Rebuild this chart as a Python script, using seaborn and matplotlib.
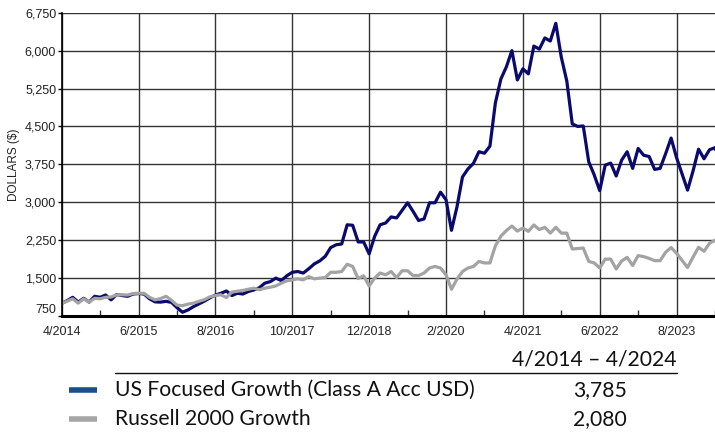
import numpy as np
import pandas as pd
import seaborn as sns
import matplotlib.pyplot as plt
from matplotlib.lines import Line2D
from matplotlib.ticker import FuncFormatter, MultipleLocator

# monthly growth of $1,000, 4/2014 .. 4/2024 (month 0 .. 120)
fund_values = [
    1000, 1055, 1120, 1025, 1100, 1025, 1140, 1120, 1165, 1070,
    1175, 1155, 1140, 1185, 1195, 1185, 1090, 1030, 1025, 1040,
    1020, 915, 825, 870, 935, 990, 1045, 1110, 1165, 1200,
    1245, 1155, 1200, 1185, 1235, 1265, 1310, 1400, 1430, 1500,
    1450, 1545, 1615, 1630, 1600, 1685, 1780, 1840, 1930, 2105,
    2160, 2175, 2555, 2545, 2215, 2215, 1980, 2325, 2555, 2590,
    2710, 2690, 2840, 2990, 2820, 2640, 2670, 2990, 2990, 3200,
    3050, 2445, 2910, 3500, 3660, 3770, 4000, 3970, 4110, 4970,
    5440, 5680, 6000, 5420, 5640, 5540, 6090, 6030, 6250, 6190,
    6540, 5870, 5400, 4550, 4500, 4510, 3800, 3540, 3230, 3735,
    3775, 3520, 3835, 4000, 3670, 4065, 3930, 3905, 3650, 3670,
    3960, 4270, 3880, 3560, 3240, 3620, 4050, 3860, 4040, 4080,
    3785,
]
index_values = [
    1000, 1045, 1090, 1005, 1090, 1025, 1100, 1090, 1120, 1125,
    1170, 1170, 1165, 1195, 1200, 1200, 1120, 1070, 1095, 1140,
    1060, 965, 955, 985, 1005, 1040, 1075, 1130, 1155, 1170,
    1115, 1225, 1240, 1255, 1280, 1300, 1270, 1300, 1320, 1345,
    1400, 1445, 1465, 1485, 1465, 1530, 1485, 1500, 1510, 1615,
    1615, 1630, 1775, 1730, 1490, 1545, 1345, 1500, 1600, 1565,
    1630, 1510, 1645, 1645, 1550, 1550, 1600, 1700, 1730, 1700,
    1565, 1280, 1480, 1630, 1700, 1730, 1830, 1800, 1800, 2140,
    2330, 2440, 2530, 2430, 2490, 2425, 2550, 2460, 2505, 2390,
    2505, 2390, 2390, 2075, 2085, 2095, 1830, 1800, 1700, 1875,
    1875, 1680, 1840, 1910, 1750, 1945, 1925, 1890, 1845, 1845,
    2010, 2105, 1990, 1850, 1710, 1915, 2110, 2030, 2190, 2250,
    2080,
]
months = list(range(len(fund_values)))

series_names = ['US Focused Growth (Class A Acc USD)', 'Russell 2000 Growth']
final_values = ['3,785', '2,080']
period_label = '4/2014 \u2013 4/2024'
x_tick_months = [0, 14, 28, 42, 56, 70, 84, 98, 112]
x_tick_labels = ['4/2014', '6/2015', '8/2016', '10/2017', '12/2018',
                 '2/2020', '4/2021', '6/2022', '8/2023']
y_ticks = list(range(750, 6751, 750))

line_colors = ['#0a0a6e', '#a3a3a3']
legend_colors = ['#1a4f8b', '#a6a6a6']

df = pd.concat([
    pd.DataFrame({'month': months, 'value': fund_values, 'series': series_names[0]}),
    pd.DataFrame({'month': months, 'value': index_values, 'series': series_names[1]}),
])

sns.set_theme(style='white')
plt.rcParams['font.family'] = ['Liberation Sans', 'DejaVu Sans']

fig = plt.figure(figsize=(7.15, 4.32), dpi=100)
ax = fig.add_axes([0.0863, 0.2685, 0.9214, 0.7021])

sns.lineplot(data=df, x='month', y='value', hue='series', hue_order=series_names,
             palette=line_colors, linewidth=2.3, legend=False, ax=ax)

ax.set_xlim(0, 120)
ax.set_ylim(750, 6750)
ax.set_yticks(y_ticks)
ax.yaxis.set_major_formatter(FuncFormatter(lambda v, p: f'{int(v):,}'))
ax.set_xticks(x_tick_months)
ax.set_xticklabels(x_tick_labels)
ax.xaxis.set_minor_locator(MultipleLocator(7))
ax.grid(True, which='major', color='#333333', linewidth=1.0)
ax.set_axisbelow(True)

ax.tick_params(axis='both', which='major', labelsize=9, colors='#222222', pad=1)
ax.tick_params(axis='y', which='major', left=True, length=3, width=1, color='black')
ax.tick_params(axis='x', which='major', bottom=False)
ax.tick_params(axis='x', which='minor', bottom=True, direction='in', length=4,
               width=1, color='#333333')
# the lowest y label sits a little higher in the original
ax.get_yticklabels()[0].set_verticalalignment('bottom')

ax.set_xlabel('')
ax.set_ylabel('DOLLARS ($)', fontsize=8.5, color='#222222', labelpad=4)
ax.yaxis.set_label_coords(-0.063, 0.5)

for side in ['top', 'right']:
    ax.spines[side].set_visible(False)
ax.spines['left'].set_color('black')
ax.spines['left'].set_linewidth(1.2)
ax.spines['bottom'].set_color('black')
ax.spines['bottom'].set_linewidth(2.2)

# summary table below the chart
tfont = ['Lato', 'DejaVu Sans']
fsize = 15.2
fig.text(677 / 715, 1 - 360 / 432, period_label, ha='right', va='center',
         fontsize=fsize, family=tfont, color='#111111')
fig.add_artist(Line2D([115 / 715, 677 / 715], [1 - 373 / 432, 1 - 373 / 432],
                      color='#111111', linewidth=1.0))
for i, (name, val, col) in enumerate(zip(series_names, final_values, legend_colors)):
    yy = 1 - (390 + 29 * i) / 432
    fig.add_artist(Line2D([69 / 715, 97 / 715], [yy, yy], color=col, linewidth=4,
                          solid_capstyle='butt'))
    fig.text(115 / 715, yy, name, ha='left', va='center', fontsize=fsize,
             family=tfont, color='#111111')
    fig.text(627 / 715, yy, val, ha='right', va='center', fontsize=fsize,
             family=tfont, color='#111111')

fig.savefig('out.png', dpi=100)
